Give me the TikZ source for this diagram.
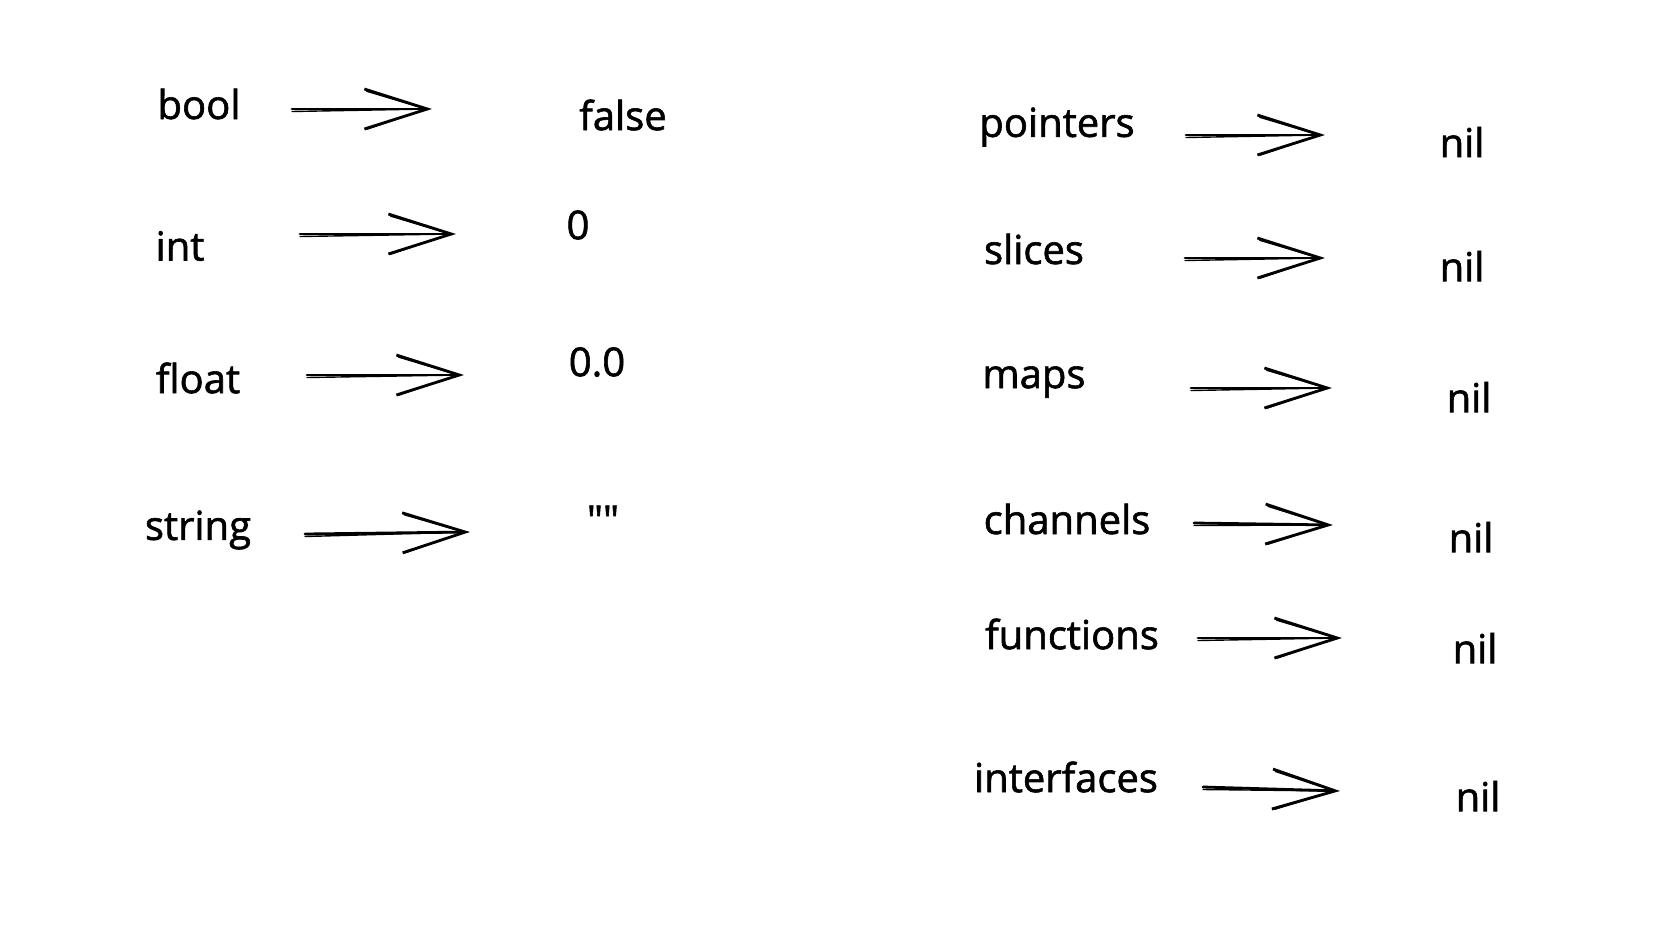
\documentclass[tikz,border=0pt]{standalone}
\usepackage{fontspec}
\setmainfont{Open Sans}
\newfontfamily\handfont[FakeBold=1.5]{Open Sans}
\usetikzlibrary{arrows.meta}
\begin{document}
\begin{tikzpicture}[x=1pt,y=-1pt,
  lbl/.style={inner sep=0pt, font=\handfont\fontsize{40}{46}\selectfont},
  val/.style={inner sep=0pt, font=\handfont\fontsize{40}{46}\selectfont},
  conn/.style={line width=2.8pt, line cap=round, -{Straight Barb[length=63pt,width=40pt,line width=2.8pt]}},
  connb/.style={line width=1.4pt, line cap=round, -{Straight Barb[length=60pt,width=38pt,line width=1.4pt]}}]
\useasboundingbox (0,0) rectangle (1664,926);
% left column
\node[lbl] (bool) at (199,104) {bool};
\node[val] (false) at (623,115) {false};
\node[lbl] (int) at (180,246) {int};
\node[val] (zero) at (578,225) {0};
\node[lbl] (float) at (198,378) {float};
\node[val] (zerof) at (597,362) {0.0};
\node[lbl] (string) at (198,530) {string};
\node[val] (empty) at (603,520) {\symbol{34}\symbol{34}};
% right column
\node[lbl] (pointers) at (1057,127) {pointers};
\node[val] (nil1) at (1462,142) {nil};
\node[lbl] (slices) at (1034,249) {slices};
\node[val] (nil2) at (1462,266) {nil};
\node[lbl] (maps) at (1034,382) {maps};
\node[val] (nil3) at (1469,397) {nil};
\node[lbl] (channels) at (1067,519) {channels};
\node[val] (nil4) at (1471,537) {nil};
\node[lbl] (functions) at (1072,634) {functions};
\node[val] (nil5) at (1475,648) {nil};
\node[lbl] (interfaces) at (1066,777) {interfaces};
\node[val] (nil6) at (1478,796) {nil};
% arrow end points
\coordinate (a1s) at (292,109); \coordinate (a1e) at (432,109);
\coordinate (a2s) at (300,234); \coordinate (a2e) at (456,234);
\coordinate (a3s) at (307,375); \coordinate (a3e) at (464,375);
\coordinate (a4s) at (305,534); \coordinate (a4e) at (470,532);
\coordinate (b1s) at (1186,135); \coordinate (b1e) at (1325,135);
\coordinate (b2s) at (1185,258); \coordinate (b2e) at (1325,258);
\coordinate (b3s) at (1191,388); \coordinate (b3e) at (1332,388);
\coordinate (b4s) at (1194,523); \coordinate (b4e) at (1333,525);
\coordinate (b5s) at (1198,638); \coordinate (b5e) at (1342,638);
\coordinate (b6s) at (1203,787); \coordinate (b6e) at (1340,791);
\foreach \p in {a1,a2,a3,a4,b1,b2,b3,b4,b5,b6}{
  \draw[conn] (\p s) -- (\p e);
  \draw[connb] ([yshift=-2.5pt]\p s) -- ([xshift=-3pt]\p e);
}
\end{tikzpicture}
\end{document}
